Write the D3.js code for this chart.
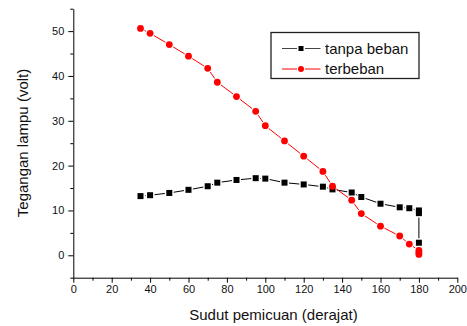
<!DOCTYPE html>
<html>
<head>
<meta charset="utf-8">
<script src="https://cdn.jsdelivr.net/npm/d3@7"></script>
<style>
  body { margin: 0; background: #fff; }
  svg { display: block; font-family: "Liberation Sans", Arial, sans-serif; }
  .axis path, .axis line { stroke: #000; stroke-width: 1; }
  .axis text { fill: #111; font-size: 11px; }
</style>
</head>
<body>
<div id="chart"></div>
<script>
// sudut pemicuan (derajat)
var sudutTanpa = [35, 40, 50, 60, 70, 75, 85, 95, 100, 110, 120, 130, 135, 145, 150, 160, 170, 175, 180, 180, 180];
var tanpaBeban = [13.2, 13.4, 13.9, 14.6, 15.4, 16.2, 16.8, 17.2, 17.1, 16.2, 15.8, 15.3, 14.7, 14.0, 13.0, 11.5, 10.7, 10.5, 10.0, 9.4, 2.8];

var sudutBeban = [35, 40, 50, 60, 70, 75, 85, 95, 100, 110, 120, 130, 135, 145, 150, 160, 170, 175, 180, 180, 180];
var terbeban = [50.6, 49.5, 47.0, 44.4, 41.7, 38.6, 35.4, 32.1, 28.9, 25.5, 22.1, 18.7, 15.4, 12.3, 9.3, 6.5, 4.3, 2.5, 1.1, 0.6, 0.2];

var xTicks = [0, 20, 40, 60, 80, 100, 120, 140, 160, 180, 200];
var yTicks = [0, 10, 20, 30, 40, 50];
var seriesNames = ["tanpa beban", "terbeban"];

var W = 467, H = 326;
var margin = {top: 8.7, right: 9.7, bottom: 48.3, left: 73.3},
    width = W - margin.left - margin.right,
    height = H - margin.top - margin.bottom;

var x = d3.scaleLinear().domain([0, 200]).range([0, width]);
var y = d3.scaleLinear().domain([-5, 55]).range([height, 0]);

var svg = d3.select("#chart").append("svg")
    .attr("width", W)
    .attr("height", H)
  .append("g")
    .attr("transform", "translate(" + margin.left + "," + margin.top + ")");

// minor ticks first
svg.append("g")
    .attr("class", "axis")
    .attr("transform", "translate(0," + height + ")")
    .call(d3.axisBottom(x).tickValues(d3.range(10, 200, 20)).tickSize(3).tickFormat(""))
    .select(".domain").remove();
svg.append("g")
    .attr("class", "axis")
    .call(d3.axisLeft(y).tickValues(d3.range(-5, 60, 10)).tickSize(3).tickFormat(""))
    .select(".domain").remove();

svg.append("g")
    .attr("class", "axis")
    .attr("transform", "translate(0," + height + ")")
    .call(d3.axisBottom(x).tickValues(xTicks).tickSize(5).tickSizeOuter(0).tickPadding(3));

svg.append("g")
    .attr("class", "axis")
    .call(d3.axisLeft(y).tickValues(yTicks).tickSize(5).tickSizeOuter(0).tickPadding(4));

// axis titles
svg.append("text")
    .attr("x", 273.5 - margin.left)
    .attr("y", 320.5 - margin.top)
    .attr("text-anchor", "middle")
    .style("font-size", "15px")
    .style("fill", "#111")
    .text("Sudut pemicuan (derajat)");

svg.append("text")
    .attr("transform", "translate(" + (28 - margin.left) + "," + (143 - margin.top) + ") rotate(-90)")
    .attr("text-anchor", "middle")
    .style("font-size", "15px")
    .style("fill", "#111")
    .text("Tegangan lampu (volt)");

// line segments with small gaps around the markers
function drawSeries(xs, ys, color, gap) {
  var pts = xs.map(function(d, i) { return [x(d), y(ys[i])]; });
  var segs = [];
  for (var i = 0; i < pts.length - 1; i++) {
    var a = pts[i], b = pts[i + 1];
    var dx = b[0] - a[0], dy = b[1] - a[1];
    var len = Math.sqrt(dx * dx + dy * dy);
    if (len <= gap * 2) continue;
    var ux = dx / len, uy = dy / len;
    segs.push([a[0] + ux * gap, a[1] + uy * gap, b[0] - ux * gap, b[1] - uy * gap]);
  }
  svg.append("g").selectAll("line")
      .data(segs)
    .enter().append("line")
      .attr("x1", function(d) { return d[0]; })
      .attr("y1", function(d) { return d[1]; })
      .attr("x2", function(d) { return d[2]; })
      .attr("y2", function(d) { return d[3]; })
      .attr("stroke", color)
      .attr("stroke-width", 1);
  return pts;
}

var ptsT = drawSeries(sudutTanpa, tanpaBeban, "#000", 4.5);
var ptsB = drawSeries(sudutBeban, terbeban, "#ff0000", 4.5);

svg.append("g").selectAll("rect")
    .data(ptsT)
  .enter().append("rect")
    .attr("x", function(d) { return d[0] - 3; })
    .attr("y", function(d) { return d[1] - 3; })
    .attr("width", 6)
    .attr("height", 6)
    .attr("fill", "#000");

svg.append("g").selectAll("circle")
    .data(ptsB)
  .enter().append("circle")
    .attr("cx", function(d) { return d[0]; })
    .attr("cy", function(d) { return d[1]; })
    .attr("r", 3.4)
    .attr("fill", "#ff0000");

// legend
var lg = svg.append("g")
    .attr("transform", "translate(" + (271 - margin.left) + "," + (32.5 - margin.top) + ")");
lg.append("rect")
    .attr("width", 148)
    .attr("height", 46)
    .attr("fill", "#fff")
    .attr("stroke", "#222")
    .attr("stroke-width", 1.3);

var rows = lg.selectAll(".row")
    .data(seriesNames)
  .enter().append("g")
    .attr("class", "row")
    .attr("transform", function(d, i) { return "translate(0," + (16 + i * 20.5) + ")"; });

rows.append("line")
    .attr("x1", 11).attr("x2", 26)
    .attr("stroke", function(d, i) { return i ? "#ff0000" : "#444"; });
rows.append("line")
    .attr("x1", 34).attr("x2", 49.5)
    .attr("stroke", function(d, i) { return i ? "#ff0000" : "#444"; });
rows.filter(function(d, i) { return i === 0; }).append("rect")
    .attr("x", 27.5).attr("y", -2.5).attr("width", 5).attr("height", 5).attr("fill", "#000");
rows.filter(function(d, i) { return i === 1; }).append("circle")
    .attr("cx", 30).attr("r", 3).attr("fill", "#ff0000");
rows.append("text")
    .attr("x", 54)
    .attr("dy", "0.35em")
    .style("font-size", "15px")
    .style("fill", "#111")
    .text(function(d) { return d; });
</script>
</body>
</html>
